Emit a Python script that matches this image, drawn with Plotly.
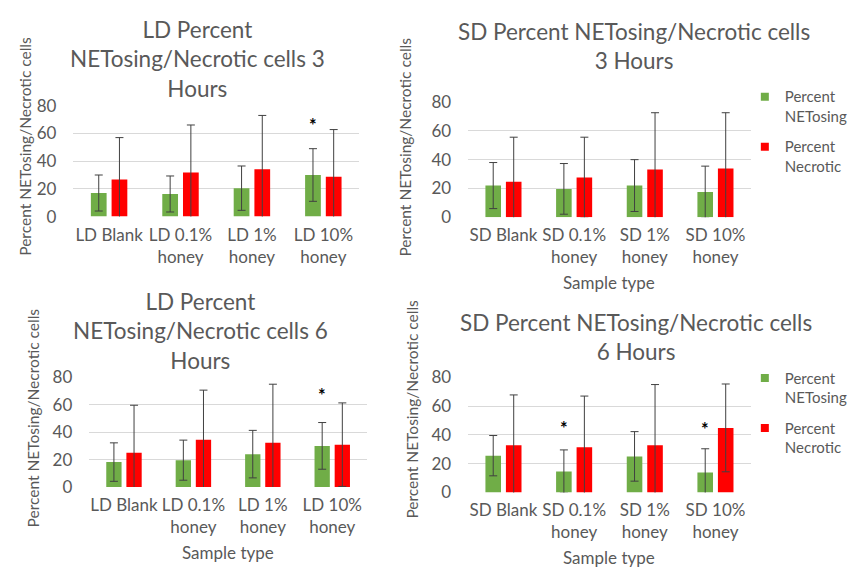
import plotly.graph_objects as go

W, H = 853, 579

# Sample labels for the two donor groups
ld_categories = ["LD Blank", "LD 0.1%<br>honey", "LD 1%<br>honey", "LD 10%<br>honey"]
sd_categories = ["SD Blank", "SD 0.1%<br>honey", "SD 1%<br>honey", "SD 10%<br>honey"]

# LD, 3 hours
ld_3h_netosing = [17.0, 16.3, 20.5, 30.0]
ld_3h_netosing_err = [13.0, 13.0, 16.0, 19.0]
ld_3h_necrotic = [26.7, 31.8, 34.1, 28.8]
ld_3h_necrotic_err = [30.3, 34.3, 38.9, 34.0]

# SD, 3 hours
sd_3h_netosing = [22.0, 19.7, 22.0, 17.5]
sd_3h_netosing_err = [16.0, 17.6, 18.0, 18.0]
sd_3h_necrotic = [24.6, 27.6, 33.2, 33.8]
sd_3h_necrotic_err = [31.0, 28.0, 39.4, 38.8]

# LD, 6 hours
ld_6h_netosing = [18.2, 19.6, 24.0, 30.0]
ld_6h_netosing_err = [14.0, 14.6, 17.3, 17.0]
ld_6h_necrotic = [25.0, 34.4, 32.3, 30.9]
ld_6h_necrotic_err = [34.6, 36.2, 42.6, 30.4]

# SD, 6 hours
sd_6h_netosing = [25.5, 14.5, 25.0, 13.8]
sd_6h_netosing_err = [14.0, 15.0, 17.2, 16.5]
sd_6h_necrotic = [32.8, 31.4, 32.8, 44.8]
sd_6h_necrotic_err = [34.9, 35.5, 42.1, 30.5]

# significance markers: (panel, category index, height)
stars = [(1, 3, 66.0), (3, 3, 66.7), (4, 1, 45.0), (4, 3, 44.0)]

GREEN = "#70AD47"
RED = "#FF0000"
TEXT = "#595959"
GRID = "#D9D9D9"
ERR = "#404040"
FONT = "Lato"
BARGAP = 0.42

panels = [
    dict(cats=ld_categories, g=ld_3h_netosing, ge=ld_3h_netosing_err,
         r=ld_3h_necrotic, re=ld_3h_necrotic_err,
         px=(74, 362), py=(98.3, 213.3),
         title="LD Percent<br>NETosing/Necrotic cells 3<br>Hours", tx=199, ty=50,
         ytx=25, yty=140, xt=None, legend=None),
    dict(cats=sd_categories, g=sd_3h_netosing, ge=sd_3h_netosing_err,
         r=sd_3h_necrotic, re=sd_3h_necrotic_err,
         px=(472, 757), py=(94.5, 214),
         title="SD Percent NETosing/Necrotic cells<br>3 Hours", tx=639, ty=36,
         ytx=408, yty=141, xt=282, legend="legend"),
    dict(cats=ld_categories, g=ld_6h_netosing, ge=ld_6h_netosing_err,
         r=ld_6h_necrotic, re=ld_6h_necrotic_err,
         px=(90, 370), py=(380, 494),
         title="LD Percent<br>NETosing/Necrotic cells 6<br>Hours", tx=202, ty=332,
         ytx=33, yty=422, xt=562, legend=None),
    dict(cats=sd_categories, g=sd_6h_netosing, ge=sd_6h_netosing_err,
         r=sd_6h_necrotic, re=sd_6h_necrotic_err,
         px=(472, 757), py=(380, 499.5),
         title="SD Percent NETosing/Necrotic cells<br>6 Hours", tx=641, ty=338,
         ytx=415, yty=413, xt=567, legend="legend2"),
]


def fx(p):
    return p / W


def fy(p):
    return 1 - p / H


fig = go.Figure()
annotations = []
layout = {}

for i, p in enumerate(panels, start=1):
    sfx = "" if i == 1 else str(i)
    xa, ya = "x" + sfx, "y" + sfx
    for name, vals, errs, color in (
        ("Percent<br>NETosing", p["g"], p["ge"], GREEN),
        ("Percent<br>Necrotic", p["r"], p["re"], RED),
    ):
        fig.add_trace(go.Bar(
            x=p["cats"], y=vals, name=name, xaxis=xa, yaxis=ya,
            marker=dict(color=color, line=dict(width=0)),
            error_y=dict(type="data", array=errs, visible=True,
                         color=ERR, thickness=1, width=4),
            showlegend=False, hoverinfo="skip",
        ))
    if p["legend"]:
        for k, (name, color) in enumerate((("Percent<br>NETosing", GREEN),
                                            ("Percent<br>Necrotic", RED))):
            fig.add_trace(go.Scatter(
                x=[None], y=[None], mode="markers", name=name,
                xaxis=xa, yaxis=ya, legend=p["legend"],
                legendgroup=f"{p['legend']}_{k}",
                marker=dict(symbol="square", size=8, color=color),
                showlegend=True,
            ))

    layout["xaxis" + sfx] = dict(
        domain=[fx(p["px"][0]), fx(p["px"][1])], anchor=ya,
        type="category", showgrid=False, showline=False, zeroline=False,
        ticks="", tickangle=0, tickfont=dict(family=FONT, size=17, color=TEXT),
        ticklabelstandoff=6, fixedrange=True,
    )
    layout["yaxis" + sfx] = dict(
        domain=[fy(p["py"][1]), fy(p["py"][0])], anchor=xa,
        range=[0, 80], dtick=20, showgrid=True, gridcolor=GRID, gridwidth=1,
        zeroline=False, showline=False, ticks="",
        tickfont=dict(family=FONT, size=17, color=TEXT),
        ticklabelstandoff=16, fixedrange=True,
    )

    annotations.append(dict(
        text=p["title"], xref="paper", yref="paper",
        x=fx(p["tx"]), y=fy(p["ty"]), xanchor="center", yanchor="middle",
        showarrow=False, font=dict(family=FONT, size=22.5, color=TEXT),
    ))
    annotations.append(dict(
        text="Percent NETosing/Necrotic cells", xref="paper", yref="paper",
        x=fx(p["ytx"]), y=fy(p["yty"]), xanchor="center", yanchor="middle",
        textangle=-90, showarrow=False,
        font=dict(family=FONT, size=15.5, color=TEXT),
    ))
    if p["xt"] is not None:
        annotations.append(dict(
            text="Sample type", xref="paper", yref="paper",
            x=fx((p["px"][0] + p["px"][1]) / 2), y=fy(p["xt"]),
            xanchor="center", yanchor="middle", showarrow=False,
            font=dict(family=FONT, size=17, color=TEXT),
        ))

green_offset = -(1 - BARGAP) / 4
for panel, idx, height in stars:
    sfx = "" if panel == 1 else str(panel)
    annotations.append(dict(
        text="<b>*</b>", xref="x" + sfx, yref="y" + sfx,
        x=idx + green_offset, y=height, xanchor="center", yanchor="middle",
        showarrow=False, font=dict(family=FONT, size=18, color="#000000"),
    ))

legend_style = dict(
    xanchor="left", yanchor="top", bgcolor="rgba(0,0,0,0)", borderwidth=0,
    font=dict(family=FONT, size=15, color=TEXT), valign="top",
    tracegroupgap=8, itemclick=False, itemdoubleclick=False,
)

fig.update_layout(
    width=W, height=H, autosize=False,
    margin=dict(l=0, r=0, t=0, b=0),
    paper_bgcolor="#FFFFFF", plot_bgcolor="#FFFFFF",
    font=dict(family=FONT, color=TEXT),
    barmode="group", bargap=BARGAP, bargroupgap=0.24,
    annotations=annotations,
    legend=dict(x=fx(751), y=fy(72), **legend_style),
    legend2=dict(x=fx(751), y=fy(364), **legend_style),
    **layout,
)

fig.write_html("out.html")
